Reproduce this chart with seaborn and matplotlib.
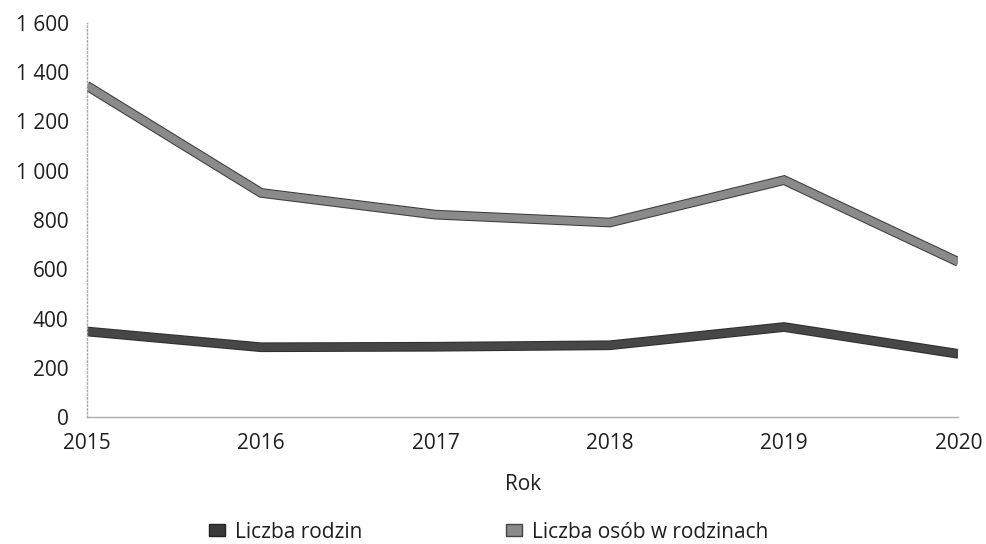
import matplotlib
matplotlib.use("Agg")
import matplotlib.pyplot as plt
import matplotlib.patheffects as pe
from matplotlib.patches import Patch
from matplotlib.ticker import FuncFormatter
import pandas as pd
import seaborn as sns

# dane
years = [2015, 2016, 2017, 2018, 2019, 2020]
rodziny = [348, 284, 286, 292, 366, 257]
osoby = [1345, 910, 822, 790, 962, 630]
series_names = ["Liczba rodzin", "Liczba osób w rodzinach"]

sns.set_style("white")
plt.rcParams["font.family"] = ["Open Sans", "DejaVu Sans"]

df = pd.DataFrame({
    "Rok": years * 2,
    "value": rodziny + osoby,
    "series": [series_names[0]] * len(years) + [series_names[1]] * len(years),
})

fig = plt.figure(figsize=(9.86, 5.44), dpi=100)
ax = fig.add_axes([0.088, 0.233, 0.884, 0.725])

palette = {series_names[0]: "#474747", series_names[1]: "#8a8a8a"}
sns.lineplot(data=df, x="Rok", y="value", hue="series", palette=palette,
             linewidth=5.5, ax=ax, legend=False)

edges = ["#2e2e2e", "#3c3c3c"]
for line, ec in zip(ax.get_lines(), edges):
    line.set_path_effects([pe.Stroke(linewidth=7, foreground=ec), pe.Normal()])
    line.set_solid_capstyle("butt")
    line.set_solid_joinstyle("miter")

ax.set_xlim(2015, 2020)
ax.set_ylim(0, 1600)
ax.set_yticks(range(0, 1601, 200))
ax.set_xticks(years)
ax.yaxis.set_major_formatter(FuncFormatter(lambda v, p: f"{int(v):,}".replace(",", " ")))
ax.tick_params(axis="both", length=0, labelsize=15, colors="#1e1e1e")
ax.tick_params(axis="y", pad=13)
ax.tick_params(axis="x", pad=11)

for s in ["top", "right"]:
    ax.spines[s].set_visible(False)
ax.spines["left"].set_color("#aaaaaa")
ax.spines["left"].set_linestyle(":")
ax.spines["left"].set_linewidth(1)
ax.spines["bottom"].set_color("#aaaaaa")
ax.spines["bottom"].set_linewidth(1)

ax.set_xlabel("Rok", fontsize=15, color="#1e1e1e", labelpad=15)
ax.set_ylabel("")

handles = [Patch(facecolor="#3a3a3a", edgecolor="#222222"),
           Patch(facecolor="#8a8a8a", edgecolor="#444444")]
fig.legend(handles, series_names, loc="center", bbox_to_anchor=(0.496, 0.022),
           ncol=2, frameon=False, fontsize=15, handlelength=0.75, handleheight=0.5,
           handletextpad=0.5, columnspacing=6.9, labelcolor="#1e1e1e")

fig.savefig("out.png", dpi=100)
